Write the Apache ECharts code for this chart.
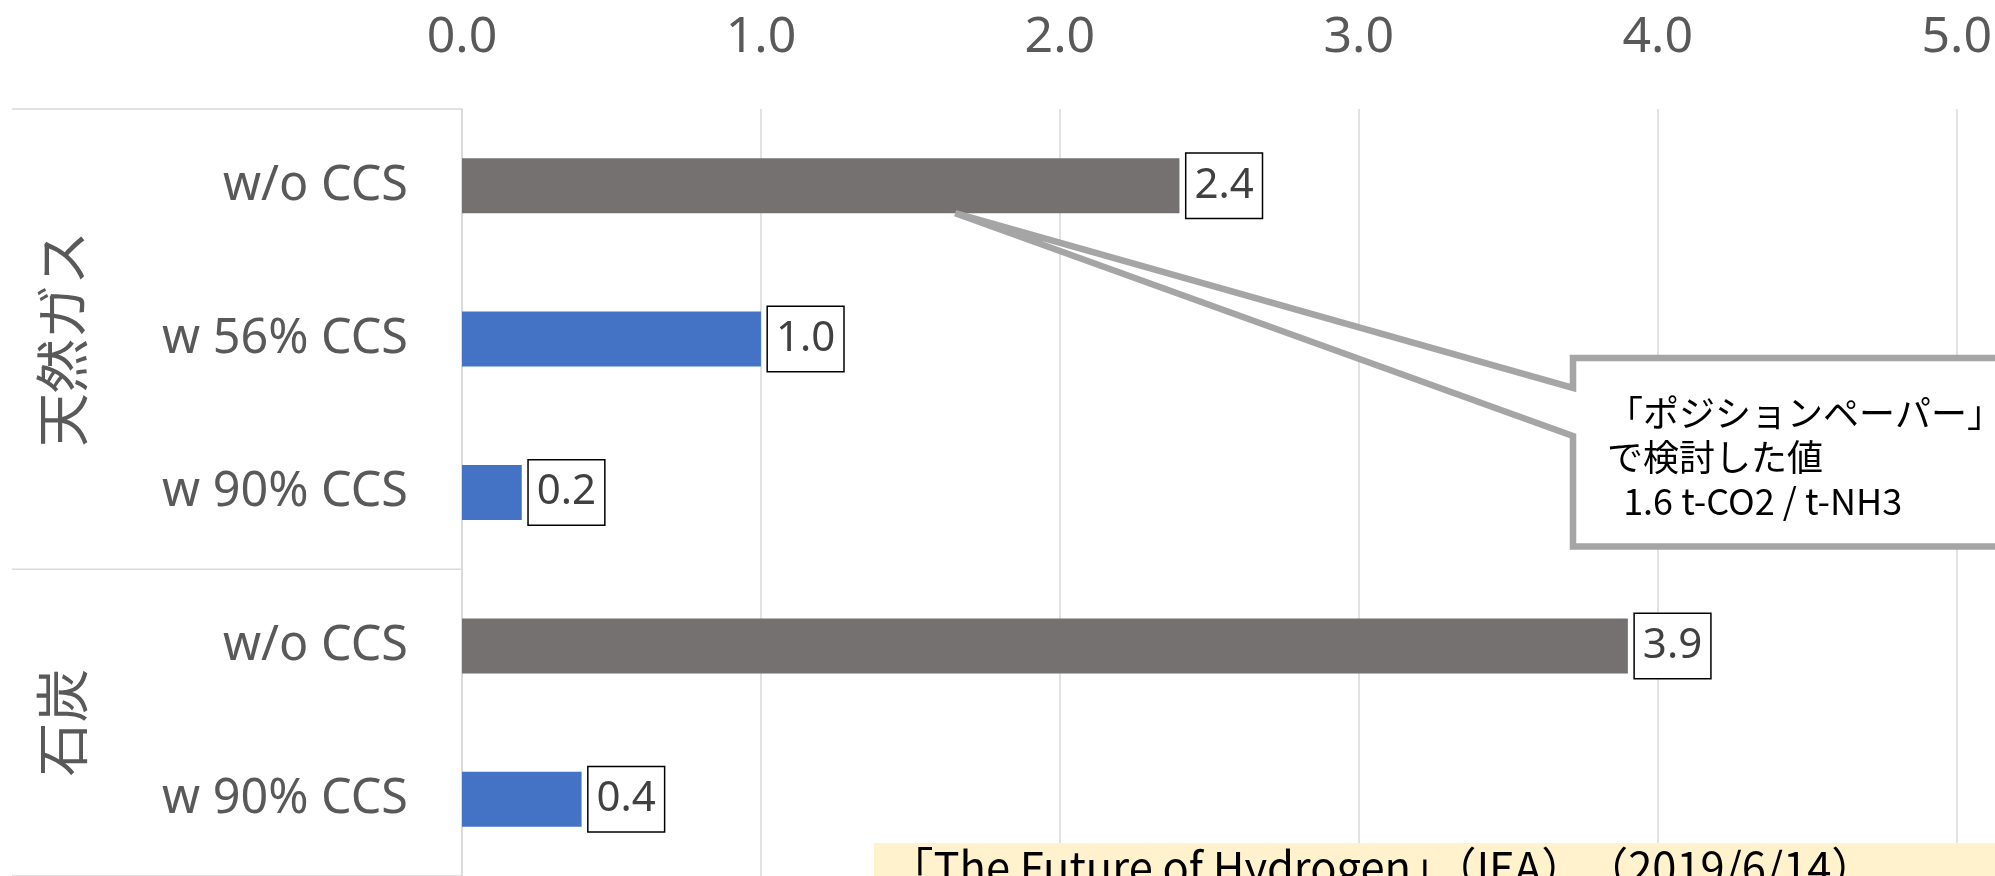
<!DOCTYPE html>
<html>
<head>
<meta charset="utf-8">
<script src="https://cdn.jsdelivr.net/npm/echarts@6/dist/echarts.min.js"></script>
<style>
  html, body { margin: 0; padding: 0; background: #ffffff; overflow: hidden; }
  #chart { width: 1995px; height: 876px; }
</style>
</head>
<body>
<div id="chart"></div>
<script>
// Ammonia production: CO2 intensity (t-CO2 / t-NH3) by feedstock and capture rate
const subCategories = ['w/o CCS', 'w 56% CCS', 'w 90% CCS', 'w/o CCS', 'w 90% CCS'];
const groupNames = ['天然ガス', '石炭'];
const groupSizes = [3, 2];
const emissions = [2.4, 1.0, 0.2, 3.9, 0.4];
const withCapture = [false, true, true, false, true];
const xTickMin = 0;
const xTickMax = 5;
const xTickStep = 1;
const calloutTipValue = 1.65;        // axis value where the callout pointer meets the first bar
const calloutLines = ['「ポジションペーパー」', 'で検討した値', '  1.6 t-CO2 / t-NH3'];
const sourceNote = '「The Future of Hydrogen」（IEA）　（2019/6/14）';

const LATIN = "'Noto Sans', 'Noto Sans CJK JP', sans-serif";
const CJK = "'Noto Sans CJK JP', 'Noto Sans', sans-serif";
const TEXT_GREY = '#595959';
const GRID_GREY = '#d9d9d9';
const COLOR_NO_CCS = '#767171';
const COLOR_CCS = '#4472c4';
const BAR_WIDTH = 55;

const chart = echarts.init(document.getElementById('chart'), null, { renderer: 'canvas' });

const option = {
  animation: false,
  backgroundColor: '#ffffff',
  grid: { left: 462, right: 32, top: 109, height: 772, containLabel: false },
  xAxis: {
    type: 'value',
    position: 'top',
    min: xTickMin,
    max: xTickMax,
    interval: xTickStep,
    axisLine: { show: false },
    axisTick: { show: false },
    axisLabel: {
      margin: 46,
      fontSize: 50,
      fontFamily: LATIN,
      color: TEXT_GREY,
      formatter: v => v.toFixed(1)
    },
    splitLine: { show: true, lineStyle: { color: GRID_GREY, width: 1.5 } }
  },
  yAxis: {
    type: 'category',
    inverse: true,
    data: subCategories,
    axisLine: { show: true, lineStyle: { color: GRID_GREY, width: 1.5 } },
    axisTick: { show: false },
    axisLabel: {
      margin: 54,
      fontSize: 48.5,
      fontFamily: LATIN,
      color: TEXT_GREY
    }
  },
  series: [{
    type: 'bar',
    barWidth: BAR_WIDTH,
    data: emissions.map((v, i) => ({
      value: v,
      itemStyle: { color: withCapture[i] ? COLOR_CCS : COLOR_NO_CCS }
    })),
    label: {
      show: true,
      position: 'right',
      distance: 7,
      formatter: p => p.value.toFixed(1),
      fontSize: 42,
      fontFamily: LATIN,
      color: '#404040',
      lineHeight: 50,
      backgroundColor: '#ffffff',
      borderColor: '#000000',
      borderWidth: 1.5,
      padding: [7, 8, 7, 8]
    }
  }]
};

chart.setOption(option);

// Decorations derived from the axes: group frame lines, group labels, callout, source note
function buildGraphics() {
  const gridRect = chart.getModel().getComponent('grid', 0).coordinateSystem.getRect();
  const c0 = chart.convertToPixel({ yAxisIndex: 0 }, 0);
  const c1 = chart.convertToPixel({ yAxisIndex: 0 }, 1);
  const band = c1 - c0;
  const frameLeft = gridRect.x - 450;
  const frameRight = gridRect.x;
  const elements = [];

  // group boundaries and rotated group names
  let start = 0;
  const boundaries = [c0 - band / 2];
  groupSizes.forEach((size, g) => {
    const top = chart.convertToPixel({ yAxisIndex: 0 }, start) - band / 2;
    const bottom = chart.convertToPixel({ yAxisIndex: 0 }, start + size - 1) + band / 2;
    boundaries.push(bottom);
    elements.push({
      type: 'text',
      x: frameLeft + 50,
      y: (top + bottom) / 2,
      rotation: Math.PI / 2,
      style: {
        text: groupNames[g],
        font: '54px ' + CJK,
        fill: TEXT_GREY,
        align: 'center',
        verticalAlign: 'middle'
      },
      z: 10
    });
    start += size;
  });
  boundaries.forEach(y => {
    elements.push({
      type: 'line',
      shape: { x1: frameLeft, y1: y, x2: frameRight, y2: y },
      style: { stroke: GRID_GREY, lineWidth: 1.5 },
      z: 10
    });
  });

  // callout pointing into the first bar
  const tip = chart.convertToPixel({ xAxisIndex: 0, yAxisIndex: 0 }, [calloutTipValue, 0]);
  const tipX = tip[0];
  const tipY = tip[1] + BAR_WIDTH / 2;
  const boxL = 1573, boxT = 358, boxB = 546.5, boxR = 2010;
  const attachUpper = 388, attachLower = 436;
  elements.push({
    type: 'polygon',
    shape: {
      points: [
        [boxL, boxT], [boxR, boxT], [boxR, boxB], [boxL, boxB],
        [boxL, attachLower], [tipX, tipY], [boxL, attachUpper]
      ]
    },
    style: { fill: '#ffffff', stroke: '#a5a5a5', lineWidth: 6.5, lineJoin: 'miter' },
    z: 20
  });
  elements.push({
    type: 'text',
    x: 1607,
    y: 391,
    style: {
      text: calloutLines.join('\n'),
      font: '36px ' + CJK,
      lineHeight: 44,
      fill: '#000000',
      align: 'left',
      verticalAlign: 'top'
    },
    z: 21
  });

  // source note
  elements.push({
    type: 'rect',
    shape: { x: 874, y: 843, width: 1200, height: 100 },
    style: { fill: '#fff2cc' },
    z: 20
  });
  elements.push({
    type: 'text',
    x: 890,
    y: 846,
    style: {
      text: sourceNote,
      font: '43.5px ' + CJK,
      fill: '#000000',
      align: 'left',
      verticalAlign: 'top'
    },
    z: 21
  });

  chart.setOption({ graphic: { elements: elements } });
}

buildGraphics();
</script>
</body>
</html>
